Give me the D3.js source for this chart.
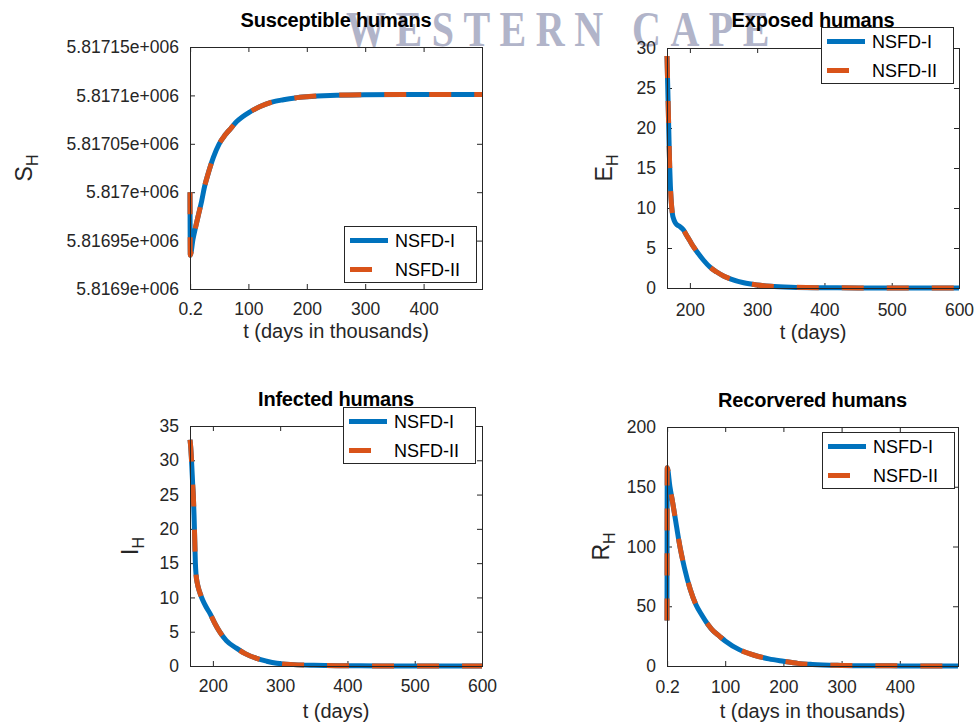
<!DOCTYPE html>
<html>
<head>
<meta charset="utf-8">
<script src="https://cdn.jsdelivr.net/npm/d3@7"></script>
<style>
  html, body { margin: 0; padding: 0; background: #fff; }
  svg { display: block; }
  text { font-family: "Liberation Sans", Arial, Helvetica, sans-serif; }
</style>
</head>
<body>
<svg id="chart" width="976" height="724"></svg>
<script>
// ---------------- DATA ----------------
const seriesNames = ["NSFD-I", "NSFD-II"];

// Susceptible humans (t in days-in-thousands axis)
const sT  = [0, 0.5, 5, 10, 15, 20, 25, 30, 40, 50, 60, 70, 80, 90, 100, 120, 140, 160, 180, 200, 240, 300, 400, 500];
const sH1 = [5817000, 5816935, 5816951, 5816965, 5816978, 5816991, 5817006, 5817017, 5817036, 5817050, 5817059, 5817066, 5817073, 5817078, 5817082, 5817088.5, 5817093, 5817095.5, 5817097.4, 5817098.6, 5817100, 5817100.7, 5817101, 5817101];
const sH2 = sH1.slice(); // NSFD-II overlaps NSFD-I

// Exposed humans
const eT  = [166, 167, 168, 169, 170, 171, 172, 173, 174, 176, 178, 181, 185, 190, 195, 200, 205, 210, 220, 230, 240, 250, 260, 280, 300, 320, 350, 400, 450, 500, 550, 600];
const eH1 = [29, 25.5, 22, 18.5, 15.2, 12.8, 11.2, 10.1, 9.3, 8.6, 8.2, 7.9, 7.7, 7.3, 6.6, 5.9, 5.2, 4.6, 3.5, 2.6, 2.0, 1.5, 1.15, 0.65, 0.38, 0.22, 0.1, 0.03, 0.01, 0, 0, 0];
const eH2 = eH1.slice();

// Infected humans
const iT  = [166, 167, 168, 169, 170, 171, 172, 173, 174, 175, 177, 179, 181, 185, 190, 196, 203, 210, 220, 235, 248, 265, 280, 295, 320, 350, 400, 450, 500, 550, 600];
const iH1 = [33, 32, 30.5, 28.5, 26.5, 24.7, 22, 18.5, 15, 13.3, 12, 11.2, 10.6, 9.6, 8.6, 7.6, 6.2, 5.0, 3.7, 2.6, 1.8, 1.1, 0.7, 0.4, 0.2, 0.1, 0.04, 0.01, 0, 0, 0];
const iH2 = iH1.slice();

// Recovered humans (t in days-in-thousands axis)
const rT  = [0, 0.4, 5, 10, 15, 20, 25, 30, 40, 50, 60, 70, 80, 90, 100, 125, 150, 175, 200, 225, 250, 300, 350, 400, 450, 500];
const rH1 = [38, 166, 150, 136, 121, 106, 93, 82, 64, 51, 42.5, 35, 29, 25, 21, 13.5, 9, 6, 4, 2.2, 1.3, 0.5, 0.2, 0.1, 0.05, 0];
const rH2 = rH1.slice();

// Tick values / labels
const thouTicks       = [0.2, 100, 200, 300, 400];
const thouTickLabels  = ["0.2", "100", "200", "300", "400"];
const daysTicks       = [200, 300, 400, 500, 600];
const daysTickLabels  = ["200", "300", "400", "500", "600"];
const sYTicks         = [5816900, 5816950, 5817000, 5817050, 5817100, 5817150];
const sYTickLabels    = ["5.8169e+006", "5.81695e+006", "5.817e+006", "5.81705e+006", "5.8171e+006", "5.81715e+006"];
const eYTicks         = [0, 5, 10, 15, 20, 25, 30];
const iYTicks         = [0, 5, 10, 15, 20, 25, 30, 35];
const rYTicks         = [0, 50, 100, 150, 200];

// ---------------- LAYOUT ----------------
const COLORS = ["#0072BD", "#D95319"];
const svg = d3.select("#chart");

// watermark (behind)
svg.append("text")
  .attr("transform", "translate(346,46) scale(1,1.25)")
  .style("font-family", "'Liberation Serif', 'Times New Roman', serif")
  .style("font-size", "40px")
  .style("font-weight", "bold")
  .style("letter-spacing", "9.5px")
  .attr("fill", "#979cb8")
  .attr("opacity", 0.75)
  .text("WESTERN CAPE");

const panels = [
  { box: [190, 47, 482, 289], xDomain: [0, 500], yDomain: [5816900, 5817150],
    xTicks: thouTicks, xLabels: thouTickLabels, yTicks: sYTicks, yLabels: sYTickLabels,
    t: sT, v1: sH1, v2: sH2, title: "Susceptible humans", xlabel: "t (days in thousands)",
    ylab: ["S", "H"], titleY: 27, xlabelY: 338, xTickDy: 20, ylabX: 32, legend: [344, 226] },
  { box: [667, 48, 959, 288], xDomain: [166, 600], yDomain: [0, 30],
    xTicks: daysTicks, xLabels: daysTickLabels, yTicks: eYTicks, yLabels: eYTicks.map(String),
    t: eT, v1: eH1, v2: eH2, title: "Exposed humans", xlabel: "t (days)",
    ylab: ["E", "H"], titleY: 27, xlabelY: 339, xTickDy: 22, ylabX: 612, legend: [821, 27] },
  { box: [190, 426, 482, 666], xDomain: [166, 600], yDomain: [0, 35],
    xTicks: daysTicks, xLabels: daysTickLabels, yTicks: iYTicks, yLabels: iYTicks.map(String),
    t: iT, v1: iH1, v2: iH2, title: "Infected humans", xlabel: "t (days)",
    ylab: ["I", "H"], titleY: 406, xlabelY: 718, xTickDy: 20, ylabX: 138, legend: [343, 407] },
  { box: [667, 427, 958, 666], xDomain: [0, 500], yDomain: [0, 200],
    xTicks: thouTicks, xLabels: thouTickLabels, yTicks: rYTicks, yLabels: rYTicks.map(String),
    t: rT, v1: rH1, v2: rH2, title: "Recorvered humans", xlabel: "t (days in thousands)",
    ylab: ["R", "H"], titleY: 407, xlabelY: 718, xTickDy: 21, ylabX: 609, legend: [822, 432] }
];

const AX = "#262626";
const TICK = 5;

panels.forEach(p => {
  const [L, T, R, B] = p.box;
  const x = d3.scaleLinear().domain(p.xDomain).range([L, R]);
  const y = d3.scaleLinear().domain(p.yDomain).range([B, T]);
  const g = svg.append("g");

  g.append("rect").attr("x", L).attr("y", T).attr("width", R - L).attr("height", B - T).attr("fill", "#fff");

  const bottom = g.append("g").attr("transform", `translate(0,${B})`)
    .call(d3.axisBottom(x).tickValues(p.xTicks).tickFormat((d, i) => p.xLabels[i]).tickSizeInner(-TICK).tickSizeOuter(0));
  bottom.selectAll("text").attr("y", p.xTickDy).attr("dy", "0.35em");
  const top = g.append("g").attr("transform", `translate(0,${T})`)
    .call(d3.axisTop(x).tickValues(p.xTicks).tickFormat("").tickSizeInner(-TICK).tickSizeOuter(0));
  const left = g.append("g").attr("transform", `translate(${L},0)`)
    .call(d3.axisLeft(y).tickValues(p.yTicks).tickFormat((d, i) => p.yLabels[i]).tickSizeInner(-TICK).tickSizeOuter(0));
  left.selectAll("text").attr("x", -11);
  const right = g.append("g").attr("transform", `translate(${R},0)`)
    .call(d3.axisRight(y).tickValues(p.yTicks).tickFormat("").tickSizeInner(-TICK).tickSizeOuter(0));

  [bottom, top, left, right].forEach(a => {
    a.select(".domain").remove();
    a.selectAll("line").attr("stroke", AX).attr("stroke-width", 1);
    a.selectAll("text").attr("fill", AX).style("font-size", "17.5px").style("font-family", "'Liberation Sans', Arial, sans-serif");
  });

  const line = d3.line().x((d, i) => x(p.t[i])).y(d => y(d)).curve(d3.curveMonotoneX);
  g.append("path").attr("d", line(p.v1)).attr("fill", "none")
    .attr("stroke", COLORS[0]).attr("stroke-width", 5).attr("stroke-linejoin", "round");
  g.append("path").attr("d", line(p.v2)).attr("fill", "none")
    .attr("stroke", COLORS[1]).attr("stroke-width", 5).attr("stroke-dasharray", "22,23");

  g.append("rect").attr("x", L + 0.5).attr("y", T + 0.5).attr("width", R - L).attr("height", B - T)
    .attr("fill", "none").attr("stroke", AX).attr("stroke-width", 1);

  svg.append("text").attr("x", (L + R) / 2).attr("y", p.titleY).attr("text-anchor", "middle")
    .style("font-size", "20px").style("font-weight", "bold").style("letter-spacing", "-0.2px")
    .attr("fill", "#000").text(p.title);

  svg.append("text").attr("x", (L + R) / 2).attr("y", p.xlabelY).attr("text-anchor", "middle")
    .style("font-size", "20px").attr("fill", AX).text(p.xlabel);

  const yl = svg.append("text")
    .attr("transform", `translate(${p.ylabX},${(T + B) / 2}) rotate(-90)`)
    .attr("text-anchor", "middle").attr("fill", AX).style("font-size", "23px");
  yl.append("tspan").text(p.ylab[0]);
  yl.append("tspan").attr("dy", 6).style("font-size", "16px").text(p.ylab[1]);

  const [lx, ly] = p.legend;
  const lg = svg.append("g");
  lg.append("rect").attr("x", lx + 0.5).attr("y", ly + 0.5).attr("width", 132).attr("height", 56)
    .attr("fill", "#fff").attr("stroke", AX).attr("stroke-width", 1);
  seriesNames.forEach((nm, i) => {
    const cy = ly + 14.5 + i * 29;
    lg.append("line").attr("x1", lx + 6).attr("x2", lx + 44).attr("y1", cy).attr("y2", cy)
      .attr("stroke", COLORS[i]).attr("stroke-width", 5)
      .attr("stroke-dasharray", i === 1 ? "22,23" : null);
    lg.append("text").attr("x", lx + 51).attr("y", cy).attr("dy", "0.35em")
      .style("font-size", "18px").attr("fill", "#000").text(nm);
  });
});
</script>
</body>
</html>
